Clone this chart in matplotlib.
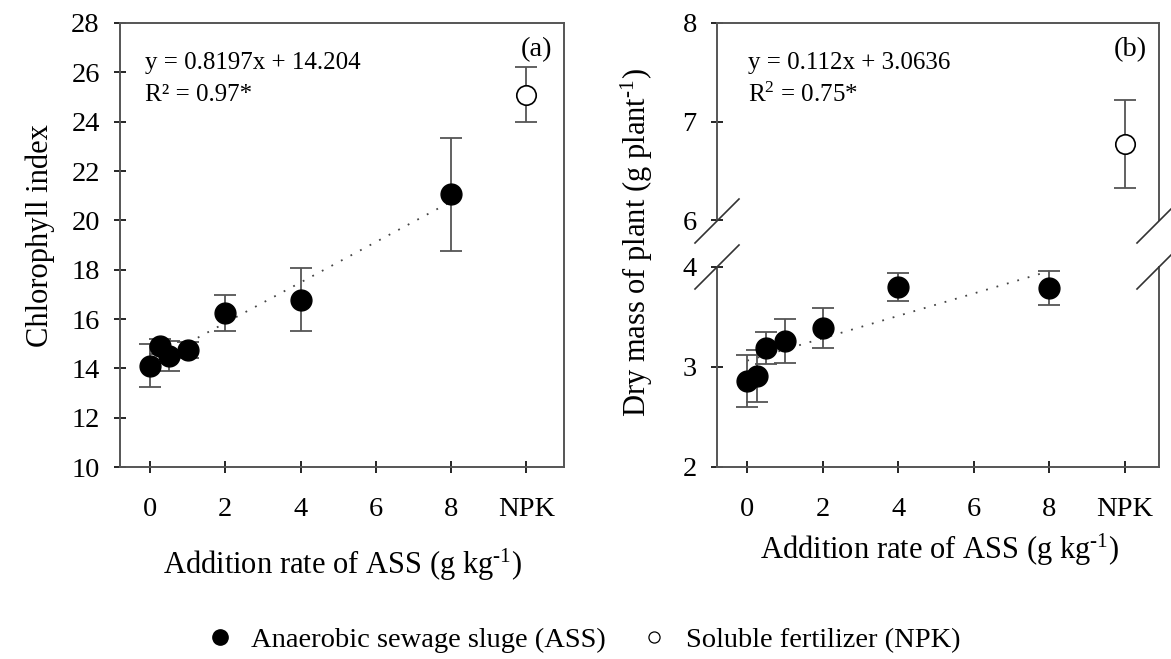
import matplotlib
matplotlib.use("Agg")
import matplotlib.pyplot as plt
from matplotlib.lines import Line2D
import numpy as np

plt.rcParams['font.family'] = ['Liberation Serif', 'DejaVu Serif']
plt.rcParams['mathtext.fontset'] = 'custom'
plt.rcParams['mathtext.rm'] = 'Liberation Serif'
plt.rcParams['mathtext.it'] = 'Liberation Serif:italic'

# ---------------- data ----------------
rates = [0, 0.25, 0.5, 1, 2, 4, 8]
npk_x = 10
xtick_pos = [0, 2, 4, 6, 8, 10]
xtick_labels = ['0', '2', '4', '6', '8', 'NPK']

chl_ass = [14.1, 14.9, 14.5, 14.75, 16.25, 16.78, 21.05]
chl_ass_err = [0.87, 0.3, 0.6, 0.33, 0.73, 1.27, 2.28]
chl_npk = [25.1]
chl_npk_err = [1.1]
chl_slope, chl_int = 0.8197, 14.204

dm_ass = [2.86, 2.91, 3.19, 3.26, 3.39, 3.80, 3.79]
dm_ass_err = [0.26, 0.26, 0.16, 0.22, 0.20, 0.14, 0.17]
dm_npk = [6.77]
dm_npk_err = [0.45]
dm_slope, dm_int = 0.112, 3.0636

W, H = 1171, 659
fig = plt.figure(figsize=(W / 100, H / 100), dpi=100)

def fx(px):
    return px / W

def fy(py):
    return 1 - py / H

TICK_FS = 20.5
LABEL_FS = 22
EQ_FS = 18
LEG_FS = 20.5
SPINE_C = '#555555'
ERR_C = '#555555'
SUP = '$^{\u2010 1}$'

def style_axes(ax):
    for s in ax.spines.values():
        s.set_color(SPINE_C)
        s.set_linewidth(1.4)
    ax.tick_params(direction='inout', length=9, width=1.2, colors='black',
                   labelsize=TICK_FS)
    ax.tick_params(axis='x', pad=17)
    ax.tick_params(axis='y', pad=10)

def draw_series(ax, xs, ys, errs, filled=True):
    ax.errorbar(xs, ys, yerr=errs, fmt='none', ecolor=ERR_C, elinewidth=1.3,
                capsize=8, capthick=1.3, zorder=2)
    if filled:
        ax.plot(xs, ys, 'o', ms=15, mfc='black', mec='black', zorder=4,
                clip_on=False)
    else:
        ax.plot(xs, ys, 'o', ms=14, mfc='white', mec='black', mew=1.2,
                zorder=4, clip_on=False)

# ---------------- panel (a) ----------------
axa = fig.add_axes([fx(120), fy(467), fx(564) - fx(120), fy(23) - fy(467)])
axa.set_xlim(-0.8, 11.0)
axa.set_ylim(10, 28)
axa.set_yticks(np.arange(10, 29, 2))
axa.set_xticks(xtick_pos)
axa.set_xticklabels(xtick_labels)
style_axes(axa)
xl = np.array([0, 8])
axa.plot(xl, chl_slope * xl + chl_int, color='#444444', lw=1.3,
         ls=(0, (1, 5)), zorder=1)
draw_series(axa, rates, chl_ass, chl_ass_err, True)
draw_series(axa, [npk_x], chl_npk, chl_npk_err, False)
fig.text(fx(145), fy(63), 'y = 0.8197x + 14.204', fontsize=EQ_FS,
         ha='left', va='center')
fig.text(fx(145), fy(95), 'R² = 0.97*', fontsize=EQ_FS, ha='left',
         va='center')
fig.text(fx(537), fy(50), '(a)', fontsize=TICK_FS, ha='center', va='center')
fig.text(fx(40), fy(236), 'Chlorophyll index', fontsize=LABEL_FS,
         rotation=90, ha='center', va='center')
fig.text(fx(343), fy(574), 'Addition rate of ASS (g kg' + SUP + ')',
         fontsize=LABEL_FS, ha='center', va='baseline')

# ---------------- panel (b) ----------------
bl, br = fx(717), fx(1159)
axt = fig.add_axes([bl, fy(220), br - bl, fy(23) - fy(220)])
axb = fig.add_axes([bl, fy(467), br - bl, fy(267) - fy(467)])
for ax in (axt, axb):
    ax.set_xlim(-0.8, 10.9)
    style_axes(ax)
axt.set_ylim(6, 8)
axt.set_yticks([6, 7, 8])
axb.set_ylim(2, 4)
axb.set_yticks([2, 3, 4])
axt.spines['bottom'].set_visible(False)
axb.spines['top'].set_visible(False)
axt.tick_params(axis='x', which='both', bottom=False, labelbottom=False)
axb.set_xticks(xtick_pos)
axb.set_xticklabels(xtick_labels)

axb.plot(xl, dm_slope * xl + dm_int, color='#444444', lw=1.3,
         ls=(0, (1, 5)), zorder=1)
draw_series(axb, rates, dm_ass, dm_ass_err, True)
draw_series(axt, [npk_x], dm_npk, dm_npk_err, False)

# break marks
for xc in (717, 1159):
    for yc in (221, 267):
        fig.add_artist(Line2D([fx(xc - 22), fx(xc + 22)],
                              [fy(yc + 22), fy(yc - 22)],
                              color='#333333', lw=1.2,
                              transform=fig.transFigure, clip_on=False))

fig.text(fx(748), fy(63), 'y = 0.112x + 3.0636', fontsize=EQ_FS,
         ha='left', va='center')
fig.text(fx(748), fy(95), r'R$^{2}$ = 0.75*', fontsize=EQ_FS, ha='left',
         va='center')
fig.text(fx(1130), fy(50), '(b)', fontsize=TICK_FS, ha='center',
         va='center')
fig.text(fx(637), fy(243), 'Dry mass of plant (g plant' + SUP + ')',
         fontsize=LABEL_FS, rotation=90, ha='center', va='center')
fig.text(fx(940), fy(559), 'Addition rate of ASS (g kg' + SUP + ')',
         fontsize=LABEL_FS, ha='center', va='baseline')

# ---------------- legend ----------------
handles = [
    Line2D([], [], ls='none', marker='o', ms=11, mfc='black', mec='black'),
    Line2D([], [], ls='none', marker='o', ms=8, mfc='white', mec='black',
           mew=0.9),
]
fig.legend(handles, ['Anaerobic sewage sluge (ASS)',
                     'Soluble fertilizer (NPK)'],
           loc='center', bbox_to_anchor=(fx(583), fy(640)), ncol=2,
           frameon=False, fontsize=LEG_FS, handlelength=1.0,
           handletextpad=0.6, columnspacing=1.2)

fig.savefig('out.png', dpi=100)
